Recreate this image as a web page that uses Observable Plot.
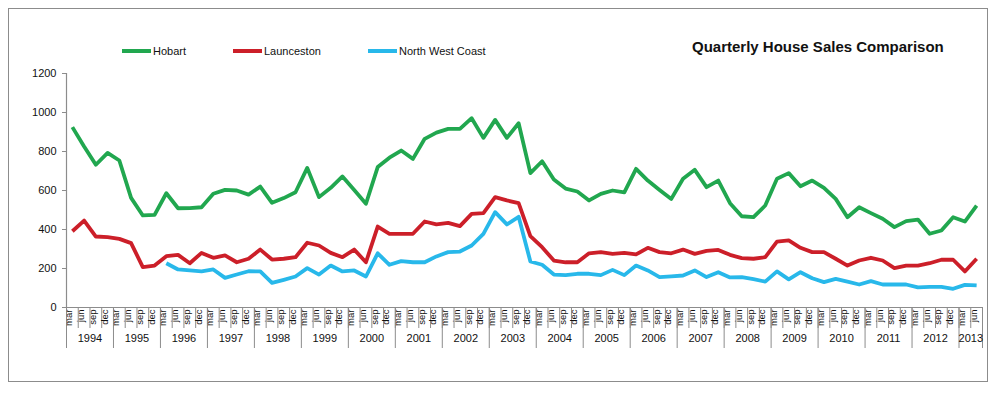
<!DOCTYPE html>
<html>
<head>
<meta charset="utf-8">
<script src="https://cdn.jsdelivr.net/npm/d3@7"></script>
<script src="https://cdn.jsdelivr.net/npm/@observablehq/plot@0.6"></script>
<style>
  body { margin: 0; background: #fff; }
  #wrap { position: relative; width: 1000px; height: 396px; font-family: "Liberation Sans", Arial, sans-serif; overflow: hidden; }
  #frame { position: absolute; left: 8px; top: 8px; width: 978px; height: 372px; border: 1px solid #8c8c8c; pointer-events: none; }
  #header { position: relative; height: 62px; }
  .lg { position: absolute; top: 44px; font-size: 11px; line-height: 14px; color: #111; display: flex; align-items: center; }
  .sw { display: inline-block; width: 29px; height: 3.5px; margin-right: 2px; }
  #title { position: absolute; left: 692px; top: 38px; font-size: 15px; font-weight: bold; color: #111; }
</style>
</head>
<body>
<div id="wrap">
  <div id="header"></div>
  <div id="chart"></div>
  <div id="frame"></div>
</div>
<script>
const years = [1994,1995,1996,1997,1998,1999,2000,2001,2002,2003,2004,2005,2006,2007,2008,2009,2010,2011,2012,2013];
const months = ["mar","jun","sep","dec"];
const seriesNames = ["Hobart","Launceston","North West Coast"];
const seriesColors = ["#21a74f","#cc1f29","#28b8ea"];
const yTicks = [0,200,400,600,800,1000,1200];

const hobart = [925,826,732,793,754,562,472,475,586,509,510,514,583,603,600,579,620,537,561,591,
  716,566,614,672,603,532,720,768,805,762,865,897,916,916,971,870,962,870,945,
  689,750,656,610,595,549,583,600,590,711,651,603,557,660,706,617,651,535,468,463,
  523,660,689,622,651,614,557,463,514,484,455,412,443,451,378,395,463,441,523];
const launceston = [391,446,364,361,352,330,207,215,263,270,227,280,255,267,232,250,297,246,250,258,
  332,318,280,258,297,232,415,378,378,378,441,426,434,417,480,484,566,549,535,
  366,309,241,232,232,278,284,275,280,272,306,284,278,297,275,290,295,270,253,250,
  258,338,344,306,284,284,250,215,241,255,241,202,215,215,227,245,245,185,250];
const northWest = [null,null,null,null,null,null,null,null,227,195,190,185,195,152,169,186,185,126,142,159,
  202,169,215,185,190,159,278,219,238,232,232,262,284,287,318,378,489,426,465,
  236,219,169,166,173,173,166,193,166,215,190,156,160,164,190,156,181,154,156,145,
  133,185,144,181,150,130,147,133,118,135,118,118,118,103,106,106,96,116,113];

const n = hobart.length;
const quarters = d3.range(n).map(i => ({
  i, year: years[Math.floor(i / 4)], month: months[i % 4],
  Hobart: hobart[i], Launceston: launceston[i], "North West Coast": northWest[i]
}));
const yearGroups = years.map((y, k) => {
  const start = k * 4, end = Math.min(n, start + 4);
  return {year: y, start, end, mid: (start + end) / 2};
});
const yearBounds = [...yearGroups.map(g => g.start), n];

const header = document.getElementById("header");
const legendX = [122, 233, 368];
seriesNames.forEach((s, k) => {
  const d = document.createElement("div");
  d.className = "lg";
  d.style.left = legendX[k] + "px";
  d.innerHTML = `<span class="sw" style="background:${seriesColors[k]}"></span><span>${s}</span>`;
  header.appendChild(d);
});
const t = document.createElement("div");
t.id = "title";
t.textContent = "Quarterly House Sales Comparison";
header.appendChild(t);

const axisGrey = "#8c8c8c";
const chart = Plot.plot({
  width: 1000,
  height: 334,
  marginTop: 11,
  marginBottom: 89,
  marginLeft: 66,
  marginRight: 18,
  style: {fontFamily: "'Liberation Sans', Arial, sans-serif", color: "#111", background: "transparent"},
  x: {type: "linear", domain: [0, n]},
  y: {domain: [0, 1200]},
  marks: [
    Plot.axisY(yTicks, {tickSize: 4, tickPadding: 6, fontSize: 11, stroke: axisGrey, fill: "#111", label: null, tickFormat: d => String(d)}),
    Plot.ruleX([0], {stroke: axisGrey, strokeWidth: 1.2}),
    Plot.axisX(d3.range(n + 1), {tickSize: 21, tickFormat: () => "", stroke: axisGrey, label: null}),
    Plot.axisX(yearBounds, {tickSize: 41, tickFormat: () => "", stroke: axisGrey, label: null}),
    Plot.ruleY([0], {stroke: axisGrey, strokeWidth: 1.2}),
    Plot.text(quarters, {x: d => d.i + 0.5, text: "month", frameAnchor: "bottom", dy: 2, rotate: -90, textAnchor: "end", fontSize: 9.5, fill: "#111"}),
    Plot.text(yearGroups, {x: "mid", text: d => String(d.year), frameAnchor: "bottom", dy: 34, fontSize: 11, fill: "#111"}),
    ...seriesNames.map((s, k) => Plot.line(quarters, {
      x: d => d.i + 0.5, y: s, stroke: seriesColors[k], strokeWidth: 3.8, strokeLinejoin: "round", strokeLinecap: "butt"
    }))
  ]
});
document.getElementById("chart").appendChild(chart);
</script>
</body>
</html>
